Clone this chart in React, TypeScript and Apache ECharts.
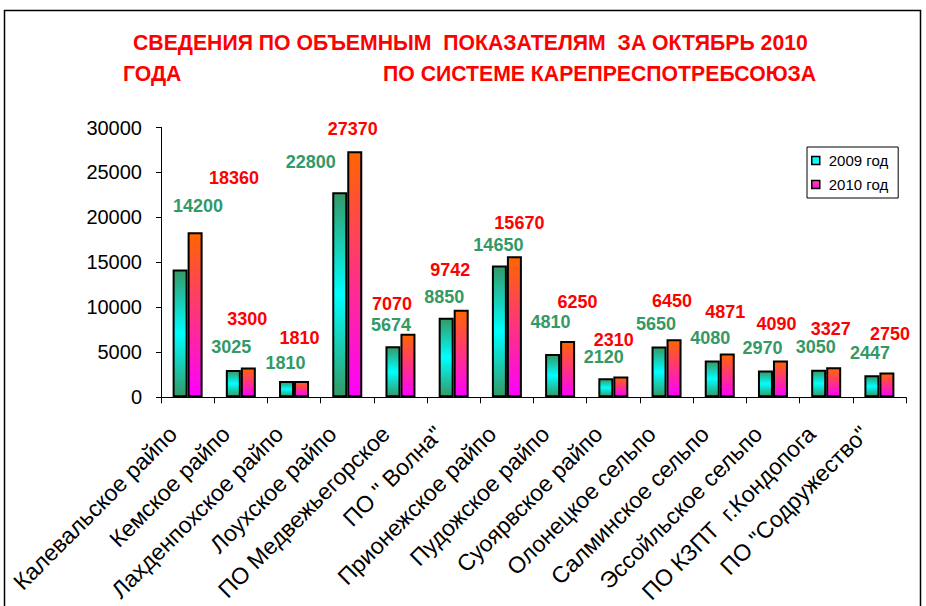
import React, { useEffect, useRef } from "react";
import * as echarts from "echarts";

const categories = [
  "Калевальское райпо",
  "Кемское райпо",
  "Лахденпохское райпо",
  "Лоухское райпо",
  "ПО Медвежьегорское",
  'ПО " Волна"',
  "Прионежское райпо",
  "Пудожское райпо",
  "Суоярвское райпо",
  "Олонецкое сельпо",
  "Салминское сельпо",
  "Эссойльское сельпо",
  "ПО КЗПТ  г.Кондопога",
  'ПО "Содружество"',
];

const seriesNames = ["2009 год", "2010 год"];
const values2009 = [14200, 3025, 1810, 22800, 5674, 8850, 14650, 4810, 2120, 5650, 4080, 2970, 3050, 2447];
const values2010 = [18360, 3300, 1810, 27370, 7070, 9742, 15670, 6250, 2310, 6450, 4871, 4090, 3327, 2750];
const yTicks = { min: 0, max: 30000, interval: 5000 };

const titleLine1 = "СВЕДЕНИЯ ПО ОБЪЕМНЫМ  ПОКАЗАТЕЛЯМ  ЗА ОКТЯБРЬ 2010";
const titleLine2a = "ГОДА";
const titleLine2b = "ПО СИСТЕМЕ КАРЕПРЕСПОТРЕБСОЮЗА";

// label nudges (style only), relative to the default "top" label position
const nudge2009 = [[18, -50], [-2, -9], [-1, -4], [-29, -16], [-2, -7], [-2, -7], [-1, -7], [-2, -18], [-2, -7], [-3, -8], [-2, -9], [-3, -9], [-3, -9], [-2, -8]];
const nudge2010 = [[39, -40], [-1, -35], [-2, -29], [-2, -8], [-16, -16], [-11, -26], [5, -19], [10, -25], [-7, -23], [-2, -24], [-2, -27], [-4, -23], [-3, -24], [3, -25]];

const FONT = "'Liberation Sans', Arial, sans-serif";

export default function App() {
  const ref = useRef<HTMLDivElement>(null);

  useEffect(() => {
    if (!ref.current) return;
    const chart = echarts.init(ref.current, undefined, { renderer: "svg" });

    const grad2009 = new echarts.graphic.LinearGradient(0, 0, 0, 1, [
      { offset: 0, color: "#339966" },
      { offset: 0.5, color: "#00FFFF" },
      { offset: 1, color: "#339966" },
    ]);
    const grad2010 = new echarts.graphic.LinearGradient(0, 0, 0, 1, [
      { offset: 0, color: "#FF6600" },
      { offset: 1, color: "#FF00FF" },
    ]);
    const legendGrad2010 = new echarts.graphic.LinearGradient(0, 0, 0, 1, [
      { offset: 0, color: "#FF5080" },
      { offset: 1, color: "#FF00FF" },
    ]);

    const labelBase = {
      show: true,
      position: "top",
      fontSize: 18,
      fontWeight: "bold",
      fontFamily: FONT,
    };

    const titleStyle = { fontSize: 22, fontWeight: "bold", fill: "#FF0000", fontFamily: FONT, verticalAlign: "middle" };

    const option: any = {
      animation: false,
      backgroundColor: "#ffffff",
      textStyle: { fontFamily: FONT },
      graphic: [
        {
          type: "rect",
          shape: { x: 4.5, y: 10.5, width: 916, height: 700 },
          style: { fill: "none", stroke: "#000", lineWidth: 1.5 },
          z: -10,
        },
        { type: "text", x: 133, y: 42, scaleX: 0.965, style: { text: titleLine1, ...titleStyle } },
        { type: "text", x: 123, y: 73, scaleX: 0.965, style: { text: titleLine2a, ...titleStyle } },
        { type: "text", x: 383, y: 73, scaleX: 0.965, style: { text: titleLine2b, ...titleStyle } },
      ],
      legend: {
        orient: "vertical",
        left: 807,
        top: 147,
        width: 83,
        padding: [6, 10, 6, 4],
        itemGap: 9,
        itemWidth: 8,
        itemHeight: 8,
        borderColor: "#000",
        borderWidth: 1,
        backgroundColor: "#fff",
        icon: "rect",
        textStyle: { fontSize: 15, color: "#000", fontFamily: FONT, padding: [0, 0, 0, 4] },
        data: [
          { name: seriesNames[0], itemStyle: { color: "#00FFFF", borderColor: "#000", borderWidth: 1.5 } },
          { name: seriesNames[1], itemStyle: { color: legendGrad2010, borderColor: "#000", borderWidth: 1.5 } },
        ],
      },
      grid: { left: 161, right: 20, top: 127.5, bottom: 207.5, containLabel: false },
      xAxis: {
        type: "category",
        data: categories,
        axisLine: { show: true, lineStyle: { color: "#000", width: 1 } },
        axisTick: { show: true, length: 6, lineStyle: { color: "#000" } },
        axisLabel: {
          interval: 0,
          rotate: 45,
          fontSize: 23,
          color: "#000",
          fontFamily: FONT,
          margin: 18,
          padding: [0, 21, 0, 0],
        },
      },
      yAxis: {
        type: "value",
        min: yTicks.min,
        max: yTicks.max,
        interval: yTicks.interval,
        axisLine: { show: true, lineStyle: { color: "#000", width: 1 } },
        axisTick: { show: true, length: 5, lineStyle: { color: "#000" } },
        splitLine: { show: false },
        axisLabel: { fontSize: 20, color: "#000", fontFamily: FONT, margin: 19, formatter: (v: number) => String(v) },
      },
      series: [
        {
          name: seriesNames[0],
          type: "bar",
          barWidth: 15,
          barGap: "0%",
          itemStyle: { color: grad2009, borderColor: "#000", borderWidth: 2 },
          label: { ...labelBase, color: "#339966" },
          data: values2009.map((v, i) => ({ value: v, label: { offset: nudge2009[i] } })),
        },
        {
          name: seriesNames[1],
          type: "bar",
          barWidth: 15,
          barGap: "0%",
          itemStyle: { color: grad2010, borderColor: "#000", borderWidth: 2 },
          label: { ...labelBase, color: "#FF0000" },
          data: values2010.map((v, i) => ({ value: v, label: { offset: nudge2010[i] } })),
        },
      ],
    };

    chart.setOption(option);
    return () => chart.dispose();
  }, []);

  return (
    <div
      ref={ref}
      style={{ position: "fixed", left: 0, top: 0, width: 926, height: 606, background: "#fff" }}
    />
  );
}
